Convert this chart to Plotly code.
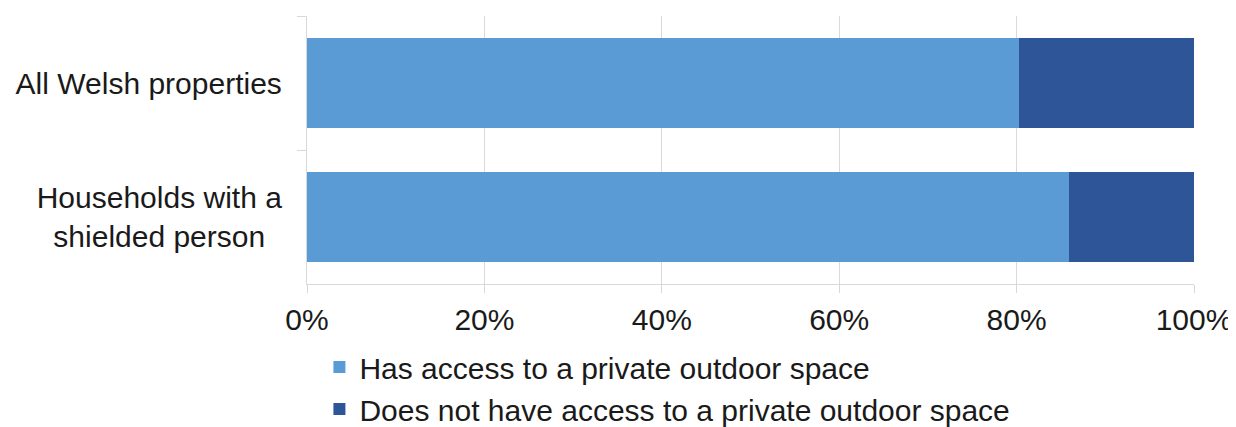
import plotly.graph_objects as go

categories = ["All Welsh properties", "Households with a<br>shielded person\u00a0\u00a0"]
has_access = [80.3, 85.9]
no_access = [19.7, 14.1]
series_names = ["Has access to a private outdoor space",
                "Does not have access to a private outdoor space"]
tick_vals = [0, 20, 40, 60, 80, 100]
tick_text = ["0%", "20%", "40%", "60%", "80%", "100%"]

light = "#5B9BD5"
dark = "#2E5597"
grid = "#D9D9D9"
font = "Liberation Sans, Arial, sans-serif"
txt = "#1A1A1A"

fig = go.Figure()
fig.add_trace(go.Bar(y=categories, x=has_access, name=series_names[0],
                     orientation="h", marker=dict(color=light, line=dict(width=0))))
fig.add_trace(go.Bar(y=categories, x=no_access, name=series_names[1],
                     orientation="h", marker=dict(color=dark, line=dict(width=0))))

fig.update_layout(
    width=1228, height=419,
    margin=dict(l=299, r=42, t=8, b=143, autoexpand=False),
    barmode="stack", bargap=0.335,
    paper_bgcolor="white", plot_bgcolor="white",
    font=dict(family=font, size=30, color=txt),
    showlegend=True,
    legend=dict(orientation="v", x=0.014, xanchor="left", y=-0.213, yanchor="top",
                traceorder="normal", font=dict(size=30, color=txt),
                itemwidth=30, tracegroupgap=0, bgcolor="rgba(0,0,0,0)"),
)
fig.update_xaxes(range=[0, 100], tickvals=tick_vals, ticktext=tick_text,
                 automargin=False,
                 showgrid=True, gridcolor=grid, gridwidth=1.3,
                 showline=True, linecolor=grid, linewidth=1.3,
                 ticks="outside", ticklen=8, tickcolor=grid, tickwidth=1.3,
                 ticklabelstandoff=1,
                 tickfont=dict(size=30, color=txt), zeroline=False)
fig.update_yaxes(categoryorder="array", categoryarray=categories, autorange="reversed",
                 automargin=False,
                 showline=True, linecolor=grid, linewidth=1.3,
                 ticks="outside", ticklen=9, tickcolor=grid, tickwidth=1.3,
                 tickson="boundaries", showgrid=False, ticklabelstandoff=18,
                 tickfont=dict(size=30, color=txt))

fig.write_html("out.html")
